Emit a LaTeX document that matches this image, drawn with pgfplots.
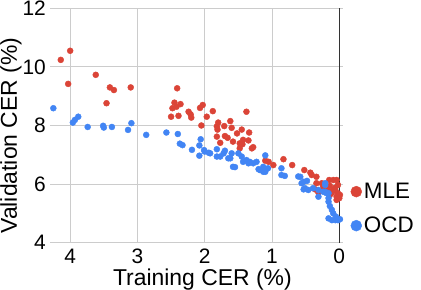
\documentclass[border=0pt]{standalone}
\usepackage{pgfplots}
\pgfplotsset{compat=1.18}
\usepackage{fontspec}
\setmainfont{Liberation Sans}
\definecolor{mlered}{HTML}{DB4437}
\definecolor{ocdblue}{HTML}{4285F4}
\definecolor{gridgray}{HTML}{CCCCCC}
\begin{document}
\begin{tikzpicture}
\path[use as bounding box] (0,0) rectangle (421bp,290bp);
\begin{axis}[
  at={(50bp,47.3bp)}, anchor=south west,
  scale only axis, width=293bp, height=234.4bp,
  x dir=reverse,
  xmin=-0.055, xmax=4.30, ymin=4, ymax=12,
  xtick={0,1,2,3,4}, ytick={4,6,8,10,12},
  grid=major,
  major grid style={gridgray, line width=1bp},
  axis line style={draw=none},
  major tick length=0pt,
  /pgf/number format/assume math mode=true,
  tick label style={font=\fontsize{21}{25}\selectfont},
  yticklabel style={inner sep=0pt, xshift=-4bp},
  xticklabel style={inner sep=0pt, yshift=-6bp},
  xlabel={Training CER (\%)},
  ylabel={Validation CER (\%)},
  label style={font=\fontsize{23}{27}\selectfont},
  xlabel style={at={(axis description cs:0.52,-0.182)}, anchor=base, inner sep=0pt},
  ylabel style={at={(axis description cs:-0.113,0.457)}, anchor=base, inner sep=0pt, rotate=0},
  legend style={at={(axis description cs:1.015,0.145)}, anchor=west, draw=none, fill=none,
    font=\fontsize{22.5}{26}\selectfont, row sep=13bp},
  legend cell align=left,
  legend image code/.code={\fill (0.3cm,0cm) circle (5.5bp);},
]
\addplot[only marks, mark=*, color=mlered, mark size=3bp, mark options={draw=none, fill=mlered}] coordinates {
(4.00,10.55) (4.14,10.24) (4.03,9.42) (3.62,9.73) (3.41,9.30) (3.35,9.21) (3.10,9.30) (3.46,8.76)
(2.41,9.27) (2.45,8.78) (2.36,8.73) (2.48,8.59) (2.42,8.64) (2.50,8.30) (2.39,8.33) (2.24,8.47)
(2.21,8.38) (2.20,8.27) (2.07,8.60) (2.03,8.70) (2.05,8.00) (1.97,8.30) (1.88,8.49) (1.38,8.47)
(1.80,8.10) (1.62,8.15) (1.82,7.97) (1.71,7.98) (1.60,7.92) (1.45,7.86) (1.34,7.76) (1.52,7.73)
(1.81,7.86) (1.82,7.62) (1.70,7.64) (1.66,7.58) (1.43,7.51) (1.35,7.49) (1.77,7.41) (1.58,7.45)
(1.48,7.39) (1.44,7.36) (1.28,7.26) (1.48,7.22) (1.30,7.22) (1.10,6.80) (1.05,6.76) (0.98,6.65)
(0.83,6.85) (0.70,6.65) (0.52,6.48) (0.43,6.39) (0.41,6.31) (0.34,6.25) (0.15,6.14) (0.09,6.14)
(0.26,6.03) (0.14,5.94) (0.06,5.80) (0.02,5.69) (0.36,5.82) (0.31,5.71) (0.04,5.57) (0.24,5.91)
(0.04,6.14) (-0.01,5.63) (0.14,5.63) (0.04,5.46) (0.21,5.74) (0.09,5.80) (0.02,5.97) (0.17,5.80)
(0.34,6.03) (0.11,5.70) (0.06,5.88) (0.00,5.52)
};
\addlegendentry{MLE}
\addplot[only marks, mark=*, color=ocdblue, mark size=3bp, mark options={draw=none, fill=ocdblue}] coordinates {
(4.25,8.59) (3.96,8.10) (3.93,8.19) (3.88,8.30) (3.74,7.95) (3.51,7.99) (3.50,7.93) (3.38,7.95)
(3.14,7.85) (3.09,8.08) (2.87,7.68) (2.57,7.76) (2.40,7.71) (2.37,7.38) (2.33,7.33) (2.19,7.17)
(2.08,7.32) (2.06,7.53) (2.01,7.16) (2.08,6.97) (1.94,7.07) (1.82,7.19) (1.82,6.94) (1.70,7.14)
(1.60,7.05) (1.77,6.94) (1.62,6.88) (1.50,7.05) (1.45,6.94) (1.38,6.82) (1.33,6.76) (1.23,6.76)
(1.55,6.58) (1.20,6.51) (1.10,6.98) (1.06,6.54) (1.10,6.42) (0.86,6.54) (0.81,6.28) (0.61,6.26)
(0.56,6.03) (0.48,6.11) (0.53,5.82) (0.46,5.80) (0.39,5.86) (0.31,5.80) (0.21,6.03) (0.21,5.74)
(0.31,5.57) (0.19,5.69) (0.16,5.52) (0.16,5.40) (0.14,5.25) (0.11,5.12) (0.09,5.00) (0.05,4.89)
(0.02,4.77) (-0.01,4.80) (0.16,4.83) (0.11,4.77) (0.58,6.25) (0.53,6.08) (0.51,5.86) (0.24,5.74)
(0.21,5.97) (0.16,5.69) (1.92,7.05) (1.13,6.59) (1.35,6.71) (1.28,6.71) (1.18,6.48) (1.13,6.42)
(1.58,6.59) (1.43,6.76) (1.72,7.05) (1.65,6.88) (2.00,7.11) (0.86,6.31) (0.06,4.77)
};
\addlegendentry{OCD}
\draw[black!80, line width=1bp] (axis cs:0,4) -- (axis cs:0,12);
\end{axis}
\end{tikzpicture}
\end{document}
